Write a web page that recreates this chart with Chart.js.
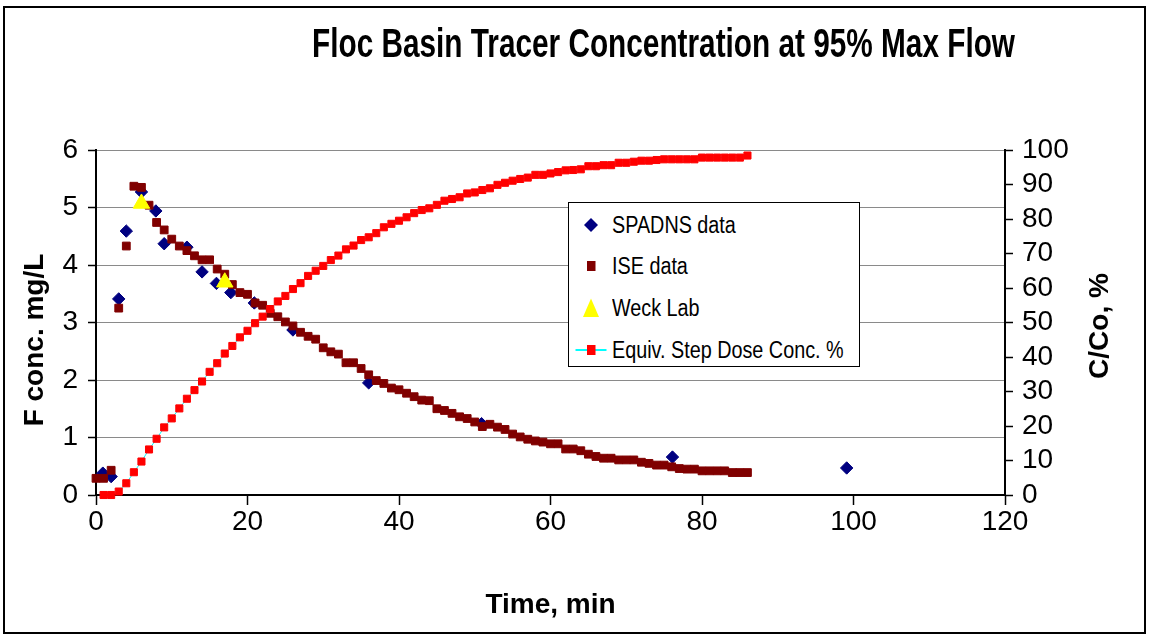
<!DOCTYPE html>
<html>
<head>
<meta charset="utf-8">
<title>Floc Basin Tracer Concentration at 95% Max Flow</title>
<script src="https://cdn.jsdelivr.net/npm/chart.js"></script>
<style>
    html, body { margin: 0; padding: 0; background: #fff; }
    #wrap { position: relative; width: 1149px; height: 635px; overflow: hidden; }
    #chartTracer { display: block; }
    .legend {
        position: absolute; left: 568px; top: 202px; width: 292px; height: 165px;
        border: 1.5px solid #000; background: #fff; box-sizing: border-box;
        font-family: "Liberation Sans", Arial, sans-serif;
    }
    .legend .row { position: absolute; left: 0; width: 100%; height: 30px; }
    .legend svg { position: absolute; left: 0; top: 0; }
    .legend span {
        position: absolute; left: 43px; top: 0; line-height: 30px; font-size: 23px;
        transform: scaleX(0.86); transform-origin: left center; white-space: nowrap; color: #000;
    }
</style>
</head>
<body>
<div id="wrap">
    <canvas id="chartTracer" width="1149" height="635"></canvas>
    <div class="legend">
        <div class="row" style="top:6.5px">
            <svg width="40" height="30"><polygon points="22,8 29,15 22,22 15,15" fill="#000080"/></svg>
            <span>SPADNS data</span>
        </div>
        <div class="row" style="top:48.2px">
            <svg width="40" height="30"><rect x="18" y="10" width="8.5" height="10" fill="#800000"/></svg>
            <span>ISE data</span>
        </div>
        <div class="row" style="top:89.5px">
            <svg width="40" height="30"><polygon points="22,5.5 30,24 14,24" fill="#FFFF00"/></svg>
            <span>Weck Lab</span>
        </div>
        <div class="row" style="top:131.5px">
            <svg width="40" height="30"><line x1="6.5" y1="15" x2="37.5" y2="15" stroke="#00FFFF" stroke-width="2"/><rect x="18" y="10" width="8.5" height="10" fill="#FF0000"/></svg>
            <span>Equiv. Step Dose Conc. %</span>
        </div>
    </div>
</div>
<script>
const chartTitle = "Floc Basin Tracer Concentration at 95% Max Flow";

// tick labels
const timeTicks = [0, 20, 40, 60, 80, 100, 120];
const concTicks = [0, 1, 2, 3, 4, 5, 6];
const pctTicks = [0, 10, 20, 30, 40, 50, 60, 70, 80, 90, 100];

// SPADNS data (min, mg/L)
const spadnsTime = [0.9, 2.0, 3.0, 4.0, 6.0, 7.9, 9.0, 12.0, 14.0, 15.9, 17.8, 20.9, 26.0, 36.0, 50.9, 76.1, 99.1];
const spadnsConc = [0.38, 0.32, 3.41, 4.59, 5.27, 4.94, 4.37, 4.31, 3.88, 3.68, 3.52, 3.34, 2.87, 1.95, 1.24, 0.66, 0.47];

// ISE data (min, mg/L)
const iseTime = [
    0, 1, 2, 3, 4, 5, 6, 7, 8, 9,
    10, 11, 12, 13, 14, 15, 16, 17, 18, 19,
    20, 21, 22, 23, 24, 25, 26, 27, 28, 29,
    30, 31, 32, 33, 34, 35, 36, 37, 38, 39,
    40, 41, 42, 43, 44, 45, 46, 47, 48, 49,
    50, 51, 52, 53, 54, 55, 56, 57, 58, 59,
    60, 61, 62, 63, 64, 65, 66, 67, 68, 69,
    70, 71, 72, 73, 74, 75, 76, 77, 78, 79,
    80, 81, 82, 83, 84, 85, 86,
];
const iseConc = [
    0.29, 0.29, 0.43, 3.25, 4.33, 5.37, 5.35, 5.04, 4.74, 4.61,
    4.45, 4.33, 4.25, 4.16, 4.09, 4.09, 3.93, 3.84, 3.66, 3.52,
    3.49, 3.34, 3.30, 3.16, 3.10, 3.01, 2.94, 2.83, 2.76, 2.71,
    2.56, 2.49, 2.45, 2.30, 2.30, 2.20, 2.09, 1.99, 1.94, 1.86,
    1.83, 1.77, 1.71, 1.65, 1.64, 1.50, 1.47, 1.42, 1.36, 1.33,
    1.27, 1.19, 1.23, 1.18, 1.14, 1.06, 1.01, 0.97, 0.94, 0.92,
    0.89, 0.89, 0.80, 0.80, 0.77, 0.71, 0.67, 0.64, 0.64, 0.61,
    0.61, 0.61, 0.57, 0.55, 0.52, 0.52, 0.49, 0.46, 0.45, 0.45,
    0.42, 0.42, 0.42, 0.42, 0.39, 0.39, 0.39,
];

// Weck Lab (min, mg/L)
const weckTime = [6.0, 17.0];
const weckConc = [5.07, 3.70];

// Equiv. step dose (min, %)
const stepTime = [
    1, 2, 3, 4, 5, 6, 7, 8, 9, 10,
    11, 12, 13, 14, 15, 16, 17, 18, 19, 20,
    21, 22, 23, 24, 25, 26, 27, 28, 29, 30,
    31, 32, 33, 34, 35, 36, 37, 38, 39, 40,
    41, 42, 43, 44, 45, 46, 47, 48, 49, 50,
    51, 52, 53, 54, 55, 56, 57, 58, 59, 60,
    61, 62, 63, 64, 65, 66, 67, 68, 69, 70,
    71, 72, 73, 74, 75, 76, 77, 78, 79, 80,
    81, 82, 83, 84, 85, 86,
];
const stepPct = [
    0, 0, 1.0, 3.4, 6.6, 9.7, 13.2, 16.3, 19.6, 22.2,
    25.1, 27.9, 30.4, 32.9, 35.7, 38.2, 41.0, 43.2, 45.7, 47.6,
    49.8, 51.7, 53.9, 56.1, 57.7, 59.7, 61.4, 63.5, 65.0, 66.4,
    68.1, 69.4, 71.2, 72.3, 73.9, 74.7, 75.9, 77.6, 78.6, 79.5,
    80.5, 81.7, 82.6, 83.1, 84.1, 85.3, 85.8, 86.3, 87.4, 87.7,
    88.4, 88.9, 89.9, 90.5, 91.1, 91.6, 92.0, 92.8, 92.8, 93.2,
    93.6, 94.1, 94.2, 94.4, 95.3, 95.3, 95.6, 95.6, 96.3, 96.3,
    96.6, 96.9, 96.9, 97.1, 97.3, 97.3, 97.3, 97.3, 97.3, 97.8,
    97.8, 97.8, 97.8, 97.8, 97.8, 98.4,
];

const FONT = '"Liberation Sans", Arial, sans-serif';
const toPoints = (xs, ys) => xs.map((x, i) => ({ x, y: ys[i] }));
const fixTicks = (list) => (scale) => { scale.ticks = list.map((v) => ({ value: v })); };

// frame, condensed title and vertical axis titles
const chartDecor = {
    id: "chartDecor",
    beforeDraw(chart) {
        const ctx = chart.ctx;
        ctx.save();
        ctx.fillStyle = "#fff";
        ctx.fillRect(0, 0, chart.width, chart.height);
        ctx.restore();
    },
    afterDraw(chart) {
        const ctx = chart.ctx;
        ctx.save();
        ctx.strokeStyle = "#000";
        ctx.lineWidth = 2;
        ctx.strokeRect(4, 7, 1141, 626);

        ctx.fillStyle = "#000";
        ctx.textAlign = "center";
        ctx.textBaseline = "middle";

        // the original title is set in a narrow face: squeeze it to its width
        ctx.font = "bold 40px " + FONT;
        const sx = 703 / ctx.measureText(chartTitle).width;
        ctx.translate(663.5, 46);
        ctx.scale(sx, 1);
        ctx.fillText(chartTitle, 0, 0);
        ctx.setTransform(1, 0, 0, 1, 0, 0);

        ctx.font = "bold 28px " + FONT;
        ctx.translate(35, 340);
        ctx.rotate(-Math.PI / 2);
        ctx.fillText("F conc. mg/L", 0, 0);
        ctx.setTransform(1, 0, 0, 1, 0, 0);

        ctx.translate(1100, 326);
        ctx.rotate(-Math.PI / 2);
        ctx.fillText("C/Co, %", 0, 0);
        ctx.restore();
    },
};

function initChart() {
    const canvas = document.getElementById("chartTracer");
    if (!canvas) return;

    Chart.defaults.font.family = FONT;
    Chart.defaults.color = "#000";

    new Chart(canvas, {
        type: "scatter",
        data: {
            datasets: [
                {
                    label: "SPADNS data",
                    data: toPoints(spadnsTime, spadnsConc),
                    yAxisID: "y",
                    pointStyle: "rectRot",
                    pointRadius: 6.2,
                    pointBackgroundColor: "#000080",
                    pointBorderColor: "#000080",
                    pointBorderWidth: 1,
                    clip: false,
                    order: 4,
                },
                {
                    label: "ISE data",
                    data: toPoints(iseTime, iseConc),
                    yAxisID: "y",
                    pointStyle: "rect",
                    pointRadius: 5.5,
                    pointBackgroundColor: "#800000",
                    pointBorderColor: "#800000",
                    pointBorderWidth: 1,
                    clip: false,
                    order: 3,
                },
                {
                    label: "Weck Lab",
                    data: toPoints(weckTime, weckConc),
                    yAxisID: "y",
                    pointStyle: "triangle",
                    pointRadius: 9.5,
                    pointBackgroundColor: "#FFFF00",
                    pointBorderColor: "#FFFF00",
                    pointBorderWidth: 1,
                    clip: false,
                    order: 2,
                },
                {
                    label: "Equiv. Step Dose Conc. %",
                    data: toPoints(stepTime, stepPct),
                    yAxisID: "y2",
                    showLine: true,
                    borderColor: "#00FFFF",
                    borderWidth: 1,
                    tension: 0,
                    pointStyle: "rect",
                    pointRadius: 5,
                    pointBackgroundColor: "#FF0000",
                    pointBorderColor: "#FF0000",
                    pointBorderWidth: 1,
                    clip: false,
                    order: 1,
                },
            ],
        },
        options: {
            responsive: false,
            animation: false,
            devicePixelRatio: 1,
            events: [],
            layout: { padding: { top: 150, left: 0, right: 0, bottom: 0 } },
            plugins: {
                legend: { display: false },
                tooltip: { enabled: false },
                title: { display: false },
            },
            scales: {
                x: {
                    type: "linear",
                    position: "bottom",
                    min: 0,
                    max: 120,
                    afterBuildTicks: fixTicks(timeTicks),
                    afterFit: (s) => { s.height = 140; },
                    ticks: { font: { size: 28 }, color: "#000", padding: 0, maxRotation: 0, autoSkip: false },
                    grid: { drawOnChartArea: false, tickLength: 10, tickColor: "#000", tickWidth: 1.5 },
                    border: { color: "#000", width: 2 },
                    title: {
                        display: true,
                        text: "Time, min",
                        color: "#000",
                        font: { size: 28, weight: "bold" },
                        padding: { top: 0, bottom: 13 },
                    },
                },
                y: {
                    position: "left",
                    min: 0,
                    max: 6,
                    afterBuildTicks: fixTicks(concTicks),
                    afterFit: (s) => { s.width = 96; },
                    ticks: { font: { size: 28 }, color: "#000", padding: 10, autoSkip: false },
                    grid: { color: "#8a8a8a", lineWidth: 1, tickLength: 8, tickColor: "#000", tickWidth: 1.5 },
                    border: { color: "#000", width: 2 },
                },
                y2: {
                    position: "right",
                    min: 0,
                    max: 100,
                    afterBuildTicks: fixTicks(pctTicks),
                    afterFit: (s) => { s.width = 144; },
                    ticks: { font: { size: 28 }, color: "#000", padding: 9, autoSkip: false },
                    grid: { drawOnChartArea: false, tickLength: 8, tickColor: "#000", tickWidth: 1.5 },
                    border: { color: "#000", width: 2 },
                },
            },
        },
        plugins: [chartDecor],
    });
}

document.addEventListener("DOMContentLoaded", () => {
    initChart();
});
</script>
</body>
</html>
